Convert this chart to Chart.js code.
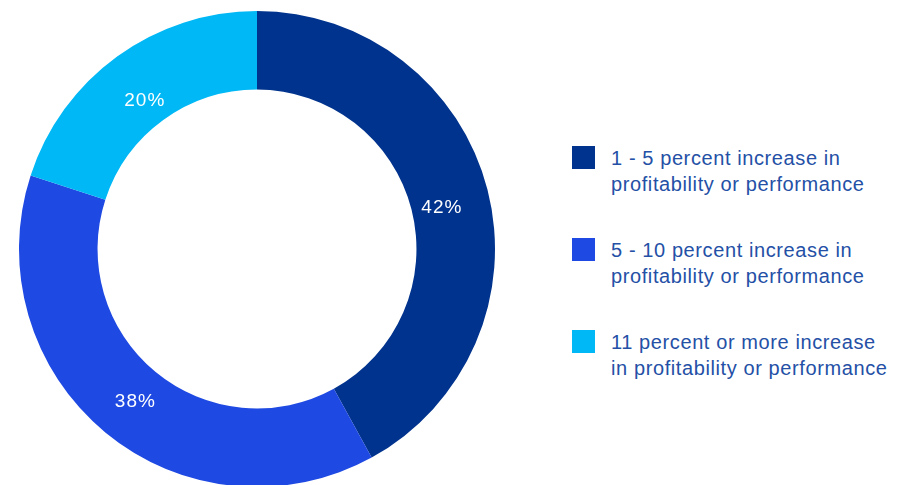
<!DOCTYPE html>
<html>
<head>
<meta charset="utf-8">
<script src="https://cdn.jsdelivr.net/npm/chart.js@4"></script>
<style>
  html, body { margin: 0; padding: 0; background: #fff; overflow: hidden; width: 901px; height: 485px; }
  #wrap { position: absolute; left: 0; top: 0; width: 514px; height: 498px; }
  #legend { position: absolute; left: 572px; top: 146px; font-family: "Liberation Sans", Arial, sans-serif; font-size: 20px; line-height: 26px; letter-spacing: 0.6px; color: #2450a6; }
  .item { position: absolute; left: 0; width: 329px; }
  .sw { position: absolute; left: 0; top: 0; width: 23px; height: 23px; }
  .tx { position: absolute; left: 39px; top: -1px; white-space: nowrap; }
</style>
</head>
<body>
<div id="wrap"><canvas id="c"></canvas></div>
<div id="legend"></div>
<script>
const categories = [
  ["1 - 5 percent increase in", "profitability or performance"],
  ["5 - 10 percent increase in", "profitability or performance"],
  ["11 percent or more increase", "in profitability or performance"]
];
const values = [42, 38, 20];
const colors = ["#00338D", "#1E49E2", "#00B8F5"];

const labelPlugin = {
  id: 'sliceLabels',
  afterDatasetsDraw(chart) {
    const ctx = chart.ctx;
    const meta = chart.getDatasetMeta(0);
    ctx.save();
    ctx.fillStyle = '#ffffff';
    ctx.font = '19px "Liberation Sans", Arial, sans-serif';
    try { ctx.letterSpacing = '1px'; } catch (e) {}
    ctx.textAlign = 'center';
    ctx.textBaseline = 'middle';
    meta.data.forEach((arc, i) => {
      const p = arc.getProps(['x', 'y', 'startAngle', 'endAngle', 'innerRadius', 'outerRadius'], true);
      const mid = (p.startAngle + p.endAngle) / 2;
      const r = p.innerRadius + (p.outerRadius - p.innerRadius) * 0.4;
      ctx.fillText(values[i] + '%', p.x + Math.cos(mid) * r, p.y + Math.sin(mid) * r + 6);
    });
    ctx.restore();
  }
};

const chart = new Chart(document.getElementById('c'), {
  type: 'doughnut',
  data: {
    labels: categories.map(c => c.join(' ')),
    datasets: [{
      data: values,
      backgroundColor: colors,
      borderWidth: 0,
      hoverOffset: 0
    }]
  },
  options: {
    responsive: true,
    maintainAspectRatio: false,
    animation: false,
    cutout: '67%',
    layout: { padding: 11 },
    plugins: { legend: { display: false }, tooltip: { enabled: false } }
  },
  plugins: [labelPlugin]
});

const legend = document.getElementById('legend');
categories.forEach((lines, i) => {
  const item = document.createElement('div');
  item.className = 'item';
  item.style.top = (i * 92) + 'px';
  const sw = document.createElement('div');
  sw.className = 'sw';
  sw.style.background = colors[i];
  const tx = document.createElement('div');
  tx.className = 'tx';
  tx.innerHTML = lines.join('<br>');
  item.appendChild(sw);
  item.appendChild(tx);
  legend.appendChild(item);
});
</script>
</body>
</html>
